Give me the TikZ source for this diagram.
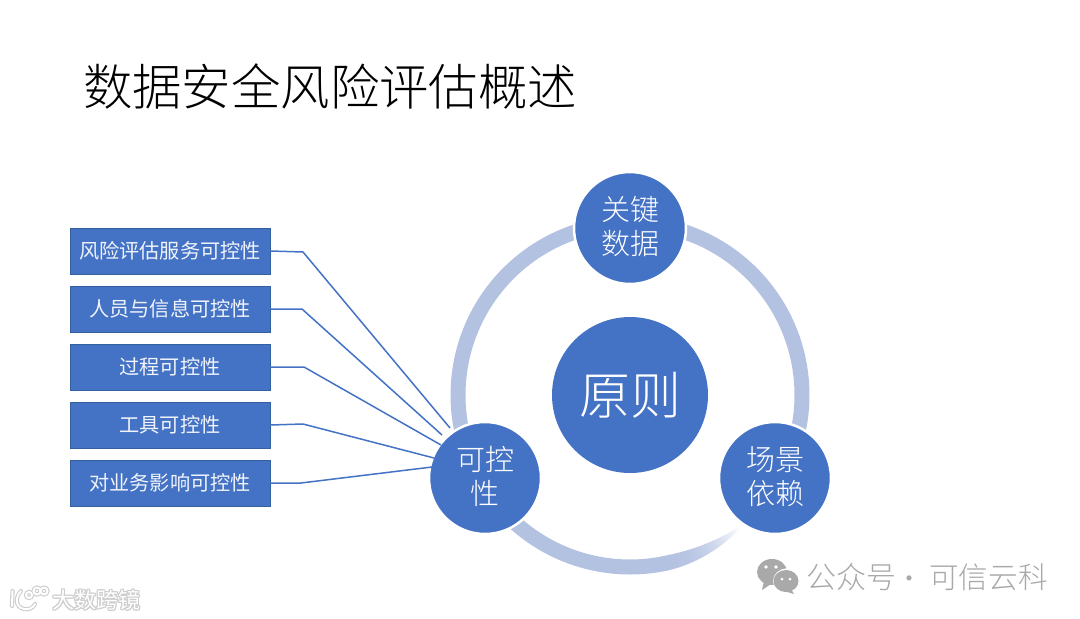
\documentclass[tikz,border=0pt]{standalone}
\usepackage{fontspec}
\setmainfont{Noto Sans CJK SC}
\newfontfamily\lightcjk{Noto Sans CJK SC Light}
\definecolor{mainblue}{HTML}{4472C4}
\definecolor{boxedge}{HTML}{35609F}
\definecolor{ringblue}{HTML}{B4C2E1}
\definecolor{wmgray}{HTML}{A9A9A9}
\definecolor{glow}{HTML}{CDCDCD}
\newcommand{\fs}[1]{\fontsize{#1}{#1}\selectfont}
\newcommand{\twolines}[2]{\parbox{90pt}{\centering #1\\#2\par\vspace{3.5pt}}}
\tikzset{
  x=1pt,y=-1pt,
  itembox/.style={draw=boxedge,line width=0.9pt,fill=mainblue,text=white!92!mainblue,minimum width=200pt,minimum height=46pt,inner sep=0pt,font=\fs{20.2}},
  satellite/.style={circle,fill=mainblue,draw=white,line width=2.5pt,minimum size=112pt,inner sep=0pt,text=white,font=\lightcjk\fontsize{29}{34}\selectfont},
  hub/.style={circle,fill=mainblue,minimum size=156pt,inner sep=0pt,text=white,font=\lightcjk\fs{51}},
  linkline/.style={draw=mainblue,line width=1.5pt,line join=round},
  mark wm/.style={text=wmgray,font=\fs{29},inner sep=0pt,anchor=west},
}
\begin{document}
\begin{tikzpicture}
\useasboundingbox (0,0) rectangle (1080,619);
\fill[white] (0,0) rectangle (1080,619);
\node[anchor=west,inner sep=0pt,font=\lightcjk\fs{49.4}] (title) at (83,87) {数据安全风险评估概述};

% ring
\def\cx{630}\def\cy{395}\def\rr{172}
\draw[ringblue,line width=15pt] plot[domain=78:395,samples=240,smooth] ({\cx+\rr*cos(\x)},{\cy+\rr*sin(\x)});
\foreach \a [evaluate=\a as \p using {100-100*((78-\a)/28)^2.2}, evaluate=\a as \w using {15-13*((78-\a)/28)^1.6}] in {50,51,...,77}{
  \draw[ringblue!\p!white,line width=\w pt] ({\cx+\rr*cos(\a+1.2)},{\cy+\rr*sin(\a+1.2)}) -- ({\cx+\rr*cos(\a)},{\cy+\rr*sin(\a)});
}

% boxes
\node[itembox] (b1) at (170,251) {风险评估服务可控性};
\node[itembox] (b2) at (170,309) {人员与信息可控性};
\node[itembox] (b3) at (170,367) {过程可控性};
\node[itembox] (b4) at (170,425) {工具可控性};
\node[itembox] (b5) at (170,483) {对业务影响可控性};

\node[hub] (center) at (630,395) {原则};
\node[satellite] (top) at (630,228) {\twolines{关键}{数据}};
\node[satellite] (right) at (775,478) {\twolines{场景}{依赖}};
\node[satellite] (left) at (485,478) {\twolines{可控}{性}};

% connectors
\coordinate (e1) at (450,428);
\coordinate (e2) at (442,435);
\coordinate (e3) at (441,445);
\coordinate (e4) at (434,458);
\coordinate (e5) at (432,467);
\draw[linkline] (b1.east) -- (303,252) -- (e1);
\draw[linkline] (b2.east) -- (302,309) -- (e2);
\draw[linkline] (b3.east) -- (304,367) -- (e3);
\draw[linkline] (b4.east) -- (303,424) -- (e4);
\draw[linkline] (b5.east) -- (301,483) -- (e5);

% wechat watermark
\fill[wmgray] (772,572) ellipse[x radius=15,y radius=13];
\fill[wmgray] (764,581) -- (762,590) -- (771,584) -- cycle;
\fill[white] (787,581) ellipse[x radius=14,y radius=12.5];
\fill[wmgray] (786,581) ellipse[x radius=12.5,y radius=11];
\fill[wmgray] (791,589) -- (794,594) -- (784,591) -- cycle;
\fill[white] (766,567) circle[radius=1.8] (776,567) circle[radius=1.8] (782,579) circle[radius=1.5] (790,579) circle[radius=1.5];
\node[mark wm] (wm1) at (806,577) {\lightcjk\fontsize{30}{30}\selectfont 公众号};
\node[mark wm] (wmdot) at (897,582) {\fs{24}·};
\node[mark wm] (wm2) at (929,577) {\lightcjk\fontsize{29.6}{29.6}\selectfont 可信云科};

% logo watermark
\foreach \dx/\dy in {-1/0,1/0,0/-1,0/1,-1/-1,1/1,-1/1,1/-1}{
  \node[anchor=west,inner sep=0pt,text=glow,font=\fs{22}] at ({52+\dx},{600+\dy}) {大数跨镜};
}
\node[anchor=west,inner sep=0pt,text=white,font=\fs{22}] (wm3) at (52,600) {大数跨镜};
\foreach \col/\wid in {glow/4.2,white/2}{
  \draw[\col,line width=\wid pt,line cap=round] (12.5,591) -- (12,606);
  \draw[\col,line width=\wid pt,line cap=round] (21,591) .. controls (15,597) and (15,607) .. (24,609) .. controls (29,610) and (33,608) .. (35,604);
  \draw[\col,line width=\wid pt] (29,595) circle[radius=3];
  \draw[\col,line width=\wid pt] (37,591) circle[radius=3.5];
  \draw[\col,line width=\wid pt] (44,591) circle[radius=3.5];
}
\end{tikzpicture}
\end{document}
